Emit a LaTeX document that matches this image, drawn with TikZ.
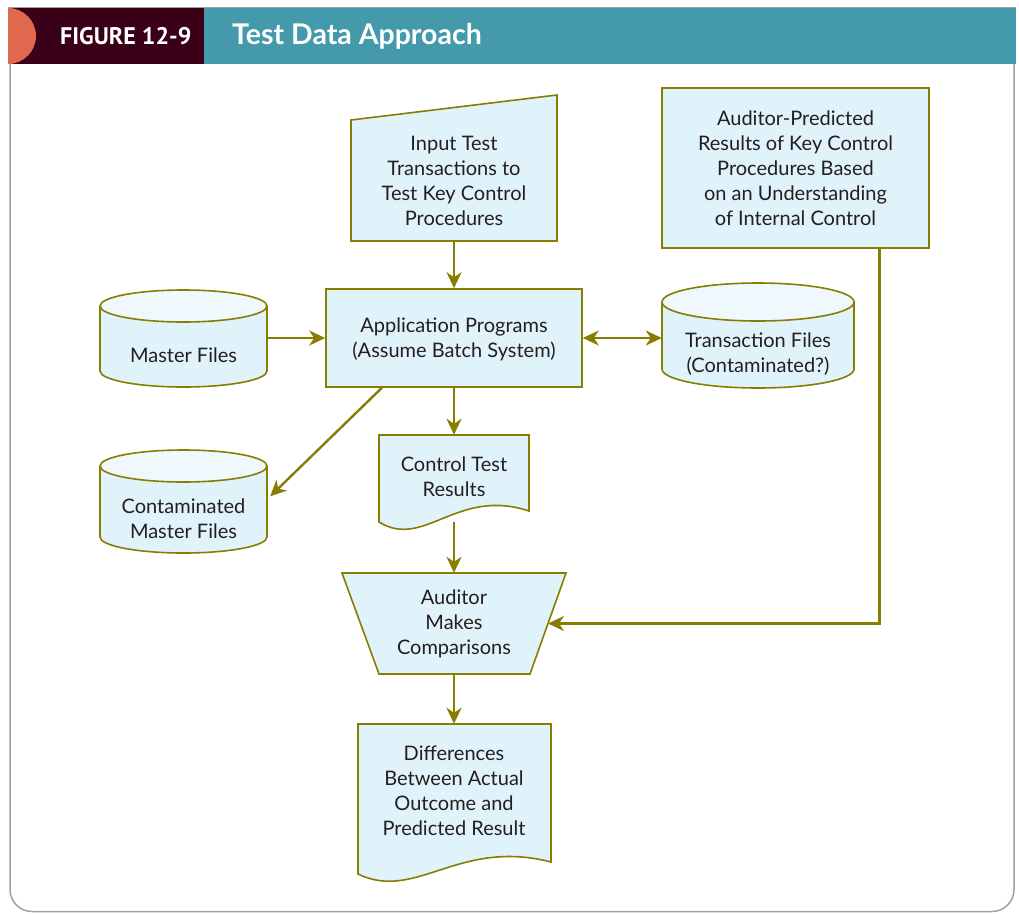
\documentclass[tikz,border=0pt]{standalone}
\usepackage{fontspec}
\setmainfont{Lato}
\newfontfamily\headfont{PT Sans}
\usetikzlibrary{arrows.meta,calc}
\definecolor{hdteal}{HTML}{4499AA}
\definecolor{hdmaroon}{HTML}{3A0018}
\definecolor{hdorange}{HTML}{E0694F}
\definecolor{boxfill}{HTML}{E1F3FA}
\definecolor{topfill}{HTML}{EFF9FD}
\definecolor{linecol}{HTML}{877D00}
\definecolor{framegray}{HTML}{A0A0A0}
\definecolor{txtcol}{HTML}{231F20}
\tikzset{
  shp/.style={draw=linecol, line width=1.6pt, fill=boxfill, line join=miter},
  lbl/.style={align=center, text=txtcol, inner sep=0pt, font=\fontsize{20}{25}\selectfont},
  ghost/.style={draw=none, inner sep=0pt, rectangle},
  tip/.tip={Stealth[length=16pt,width=15pt,inset=5pt]},
  arr/.style={draw=linecol, line width=2.4pt, -tip},
  darr/.style={draw=linecol, line width=2.4pt, tip-tip},
  conn/.style={draw=linecol, line width=2.4pt}
}
\newcommand\mycyl[5]{% left x, right x, top y, bottom y, ry
  \pgfmathsetmacro\mycx{(#1+#2)/2}\pgfmathsetmacro\myrx{(#2-#1)/2}%
  \pgfmathsetmacro\myyt{#3+#5}\pgfmathsetmacro\myyb{#4-#5}%
  \filldraw[shp] (#1,\myyt) -- (#1,\myyb) arc[start angle=180,end angle=0,x radius=\myrx,y radius=#5] -- (#2,\myyt);
  \filldraw[shp,fill=topfill] (\mycx,\myyt) ellipse[x radius=\myrx,y radius=#5];
}
\newcommand\mydoc[5]{% left x, right x, top y, left bottom y, right bottom y
  \pgfmathsetmacro\myw{#2-#1}%
  \filldraw[shp] (#2,#5) -- (#2,#3) -- (#1,#3) -- (#1,#4)
    .. controls ({#1+0.30*\myw},{#4+28}) and ({#1+0.52*\myw},{#5-24}) .. cycle;
}
\begin{document}
\begin{tikzpicture}[x=1pt,y=-1pt]
\useasboundingbox (0,0) rectangle (1019,913);
% frame
\draw[framegray, line width=1.5pt, rounded corners=22pt] (10,64) -- (10,911.5) -- (1014,911.5) -- (1014,64);
\fill[framegray] (8,6.5) rectangle (1015.5,8.5);
% header
\fill[hdteal] (8,8) rectangle (1015.5,64);
\fill[hdmaroon] (8,8) rectangle (204,64);
\fill[hdorange] (8,8) arc[start angle=-90,end angle=90,radius=28] -- cycle;
\node[anchor=west, text=white, inner sep=0pt, font=\headfont\bfseries\fontsize{24}{24}\selectfont] (fig) at (60,36.5) {FIGURE 12-9};
\node[anchor=west, text=white, inner sep=0pt, font=\bfseries\fontsize{28.5}{29}\selectfont] (title) at (232,36.5) {Test Data Approach};

% input (manual input)
\filldraw[shp] (351,120) -- (557,95) -- (557,241) -- (351,241) -- cycle;
\node[ghost, minimum width=206pt, minimum height=121pt] (inp) at (454,180.5) {};
\node[lbl] (inpT) at (inp.center) {Input Test\\Transactions to\\Test Key Control\\Procedures};

% application programs
\node[shp, rectangle, minimum width=256pt, minimum height=98pt, inner sep=0pt] (app) at (454,338) {};
\node[lbl] (appT) at (454,339) {Application Programs\\(Assume Batch System)};

% master files
\mycyl{100}{267}{290}{387}{16}
\node[ghost, minimum width=167pt, minimum height=96pt] (master) at (183.5,338) {};
\node[lbl] (masterT) at (183.5,355) {Master Files};

% transaction files
\mycyl{662}{854}{283}{388}{19}
\node[ghost, minimum width=192pt, minimum height=105pt] (trans) at (758,335.5) {};
\node[lbl] (transT) at (758,354.5) {Transaction Files\\(Contaminated?)};

% auditor predicted
\node[shp, rectangle, minimum width=267pt, minimum height=160pt, inner sep=0pt] (aud) at (795.5,168) {};
\node[lbl] (audT) at (795.5,168) {Auditor-Predicted\\Results of Key Control\\Procedures Based\\on an Understanding\\of Internal Control};

% contaminated master files
\mycyl{100}{267}{450}{553}{16}
\node[ghost, minimum width=167pt, minimum height=103pt] (cont) at (183.5,501.5) {};
\node[lbl] (contT) at (183.5,518.5) {Contaminated\\Master Files};

% control test results
\mydoc{379}{529}{435}{522}{511}
\node[ghost, minimum width=150pt, minimum height=87pt] (ctl) at (454,478.5) {};
\node[lbl] (ctlT) at (454,476.5) {Control Test\\Results};

% auditor makes comparisons (trapezoid)
\filldraw[shp] (342,573) -- (566,573) -- (530,674) -- (379,674) -- cycle;
\node[ghost, minimum width=224pt, minimum height=101pt] (trap) at (454,623.5) {};
\coordinate (trapR) at (548,623.5);
\node[lbl] (trapT) at (454,623.5) {Auditor\\Makes\\Comparisons};

% differences
\mydoc{358}{551}{724}{874}{862}
\node[ghost, minimum width=193pt, minimum height=150pt] (diff) at (454,799) {};
\node[lbl] (diffT) at (454,790.5) {Differences\\Between Actual\\Outcome and\\Predicted Result};

% connectors
\draw[arr] (inp.south) -- (app.north);
\draw[arr] (master.east) -- (app.west);
\draw[darr] (app.east) -- (app.east -| trans.west);
\coordinate (appSW) at ($(app.south west)!0.22!(app.south east)$);
\coordinate (contIn) at ($(cont.north east)!0.45!(cont.south east)+(3,0)$);
\draw[arr] (appSW) -- (contIn);
\draw[arr] (app.south) -- (ctl.north);
\draw[arr] (ctl.south) -- (trap.north);
\draw[arr] (trap.south) -- (diff.north);
\coordinate (audOut) at ($(aud.south west)!0.813!(aud.south east)$);
\draw[conn, -tip, line join=miter] (audOut) -- (audOut |- trapR) -- (trapR);
\end{tikzpicture}
\end{document}
